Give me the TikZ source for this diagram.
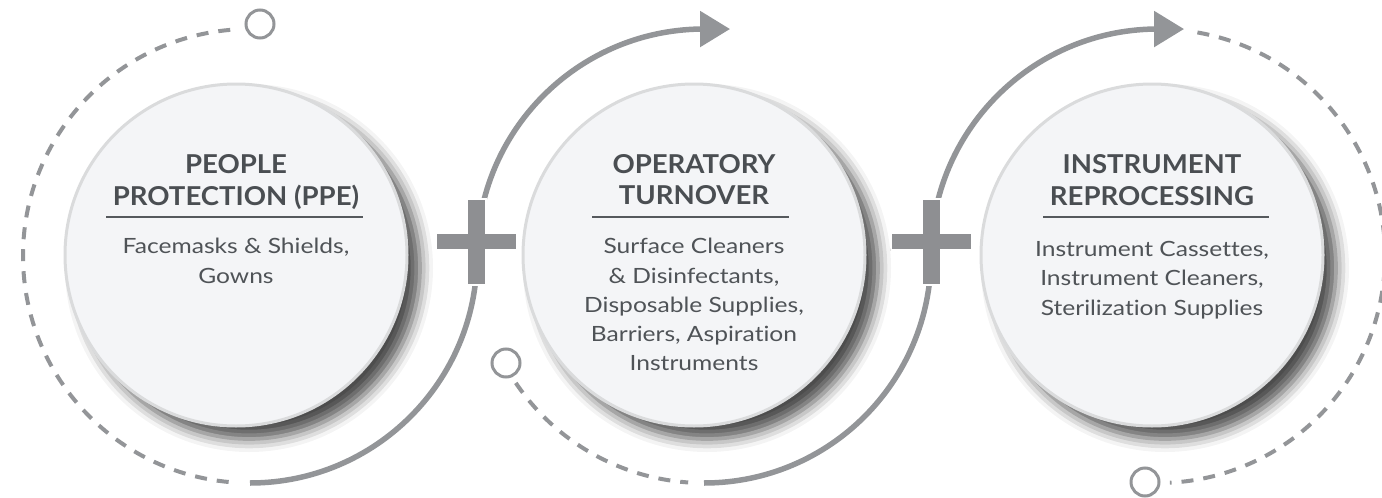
\documentclass[tikz,border=0pt]{standalone}
\usepackage{fontspec}
\setmainfont{Lato}[Ligatures=NoCommon]
\newfontfamily\ttlfont{Lato}[Ligatures=NoCommon, FakeStretch=1.06]
\newfontfamily\bodfont{Lato}[Ligatures=NoCommon, FakeStretch=1.17]
\usetikzlibrary{arrows.meta,shadows.blur,calc}
\definecolor{ringc}{HTML}{939598}
\definecolor{plusc}{HTML}{8E8F92}
\definecolor{ttlc}{HTML}{4A4E52}
\definecolor{bodc}{HTML}{4F5357}
\definecolor{discf}{HTML}{F4F5F7}
\definecolor{discb}{HTML}{DADBDC}
\definecolor{rulec}{HTML}{55595D}
\tikzset{
  solidring/.style={draw=ringc, line width=5.5pt},
  dashring/.style={draw=ringc, line width=4pt, dash pattern=on 12pt off 10pt},
  arrowring/.style={solidring, -{Triangle[length=30pt,width=35pt]}},
  smallc/.style={circle, draw=ringc, line width=3pt, fill=white, minimum size=28pt, inner sep=0pt},
  disc/.style={circle, minimum size=342pt, inner sep=0pt, fill=discf, draw=discb, line width=3pt,
    blur shadow={shadow xshift=13pt, shadow yshift=-13pt, shadow blur radius=13pt, shadow opacity=70}},
  ttl/.style={font=\ttlfont\bfseries\fontsize{26}{32}\selectfont, text=ttlc, anchor=base, inner sep=0pt},
  bod/.style={font=\bodfont\fontsize{21}{29}\selectfont, text=bodc, anchor=base, inner sep=0pt},
  rulel/.style={draw=rulec, line width=1.2pt},
  plussign/.pic={\path[fill=plusc, draw=white, line width=2pt]
    (-9.5,43) -- (9.5,43) -- (9.5,8.5) -- (40.5,8.5) -- (40.5,-8.5) -- (9.5,-8.5) -- (9.5,-43)
    -- (-9.5,-43) -- (-9.5,-8.5) -- (-40.5,-8.5) -- (-40.5,8.5) -- (-9.5,8.5) -- cycle;}
}
\begin{document}
\begin{tikzpicture}[x=1pt,y=1pt]
\useasboundingbox (0,0) rectangle (1382,-498);
\clip (0,0) rectangle (1382,-498);
\coordinate (c1) at (250,-256);
\coordinate (c2) at (704,-256);
\coordinate (c3) at (1158,-256);
% dashed rings
\draw[dashring] ($(c1)+(95:227)$) arc[start angle=95, end angle=266, radius=227];
\draw[dashring] ($(c2)+(214:227)$) arc[start angle=214, end angle=266, radius=227];
\draw[dashring] ($(c3)+(80:227)$) arc[start angle=80, end angle=-87, radius=227];
% solid S-curves with arrows
\draw[arrowring] ($(c1)+(-90:227)$) arc[start angle=-90, end angle=0, radius=227]
   arc[start angle=180, end angle=91, radius=227] -- ++(30,0);
\draw[arrowring] ($(c2)+(-90:227)$) arc[start angle=-90, end angle=0, radius=227]
   arc[start angle=180, end angle=91, radius=227] -- ++(30,0);
% plus signs
\coordinate (p1) at (476.5,-241.5);
\coordinate (p2) at (931,-241.5);
\pic at (p1) {plussign};
\pic at (p2) {plussign};
% small circles
\node[smallc] (s1) at (260,-24) {};
\node[smallc] (s2) at (506,-363) {};
\node[smallc] (s3) at (1145,-482) {};
% discs
\node[disc] (n1) at (236,-255) {};
\node[disc] (n2) at (694,-255) {};
\node[disc] (n3) at (1152,-255) {};
% texts disc 1
\node[ttl] (t1a) at (236,-173) {PEOPLE};
\node[ttl] (t1b) at (236,-205) {PROTECTION (PPE)};
\draw[rulel] (106,-217) -- (363,-217);
\node[bod] (b1a) at (236,-253) {Facemasks \& Shields,};
\node[bod] (b1b) at (236,-283) {Gowns};
% texts disc 2
\node[ttl] (t2a) at (694,-173) {OPERATORY};
\node[ttl] (t2b) at (694,-204) {TURNOVER};
\draw[rulel] (592,-217) -- (789,-217);
\node[bod] (b2a) at (694,-253) {Surface Cleaners};
\node[bod] (b2b) at (694,-283) {\& Disinfectants,};
\node[bod] (b2c) at (694,-312) {Disposable Supplies,};
\node[bod] (b2d) at (694,-341) {Barriers, Aspiration};
\node[bod] (b2e) at (694,-370) {Instruments};
% texts disc 3
\node[ttl] (t3a) at (1152,-173) {INSTRUMENT};
\node[ttl] (t3b) at (1152,-205) {REPROCESSING};
\draw[rulel] (1043,-217) -- (1269,-217);
\node[bod] (b3a) at (1152,-256) {Instrument Cassettes,};
\node[bod] (b3b) at (1152,-285) {Instrument Cleaners,};
\node[bod] (b3c) at (1152,-315) {Sterilization Supplies};
\end{tikzpicture}
\end{document}
